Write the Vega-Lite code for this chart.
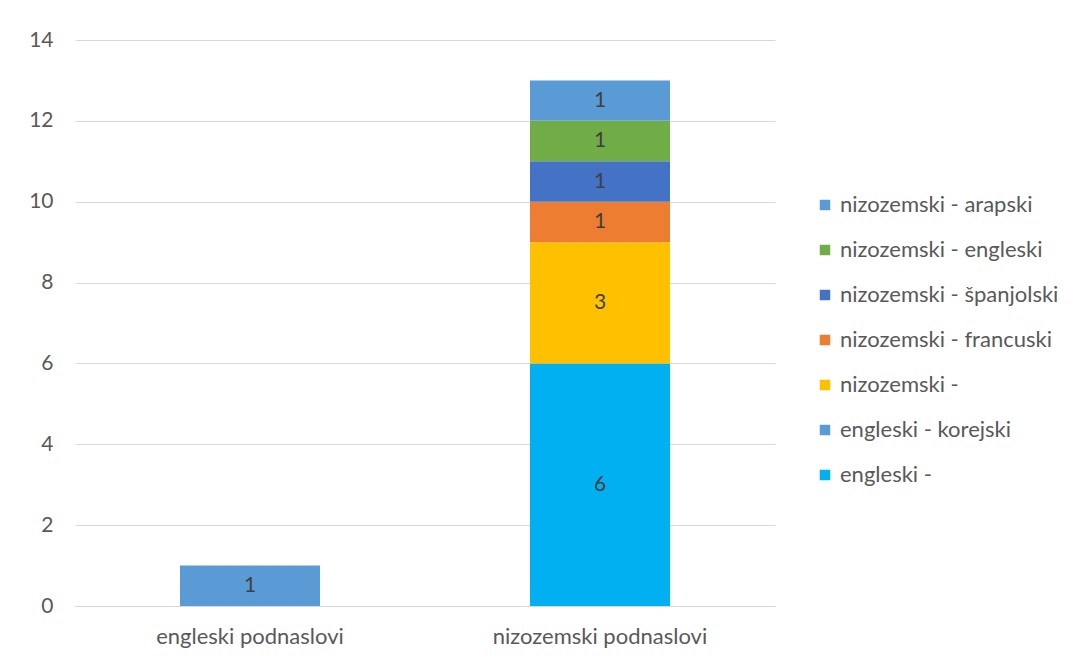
{
  "$schema": "https://vega.github.io/schema/vega-lite/v6.json",
  "width": 700,
  "height": 566,
  "autosize": {"type": "none"},
  "padding": {"left": 75, "top": 40, "right": 300, "bottom": 55},
  "background": "white",
  "config": {
    "font": "Lato",
    "view": {"stroke": null},
    "axis": {
      "labelFont": "Lato",
      "labelColor": "#595959",
      "labelFontSize": 21,
      "ticks": false,
      "gridColor": "#D9D9D9",
      "gridWidth": 1
    },
    "legend": {
      "labelFont": "Lato",
      "labelColor": "#595959",
      "labelFontSize": 22,
      "labelLimit": 320
    }
  },
  "data": {
    "values": [
      {"kategorija": "engleski podnaslovi", "serija": "engleski - korejski", "broj": 1, "redoslijed": 2},
      {"kategorija": "nizozemski podnaslovi", "serija": "engleski -", "broj": 6, "redoslijed": 1},
      {"kategorija": "nizozemski podnaslovi", "serija": "nizozemski -", "broj": 3, "redoslijed": 3},
      {"kategorija": "nizozemski podnaslovi", "serija": "nizozemski - francuski", "broj": 1, "redoslijed": 4},
      {"kategorija": "nizozemski podnaslovi", "serija": "nizozemski - španjolski", "broj": 1, "redoslijed": 5},
      {"kategorija": "nizozemski podnaslovi", "serija": "nizozemski - engleski", "broj": 1, "redoslijed": 6},
      {"kategorija": "nizozemski podnaslovi", "serija": "nizozemski - arapski", "broj": 1, "redoslijed": 7}
    ]
  },
  "transform": [
    {
      "stack": "broj",
      "groupby": ["kategorija"],
      "sort": [{"field": "redoslijed", "order": "ascending"}],
      "as": ["v0", "v1"]
    }
  ],
  "encoding": {
    "x": {
      "field": "kategorija",
      "type": "nominal",
      "sort": ["engleski podnaslovi", "nizozemski podnaslovi"],
      "scale": {"paddingInner": 0.6, "paddingOuter": 0.3},
      "axis": {
        "title": null,
        "labelAngle": 0,
        "labelFontSize": 22,
        "labelLimit": 400,
        "labelPadding": 20,
        "domainColor": "#D9D9D9",
        "domainWidth": 1,
        "grid": false
      }
    }
  },
  "layer": [
    {
      "mark": {"type": "bar"},
      "encoding": {
        "y": {
          "field": "v0",
          "type": "quantitative",
          "scale": {"domain": [0, 14], "nice": false},
          "axis": {
            "title": null,
            "values": [0, 2, 4, 6, 8, 10, 12, 14],
            "domain": false,
            "labelPadding": 22
          }
        },
        "y2": {"field": "v1"},
        "color": {
          "field": "serija",
          "type": "nominal",
          "scale": {
            "domain": [
              "nizozemski - arapski",
              "nizozemski - engleski",
              "nizozemski - španjolski",
              "nizozemski - francuski",
              "nizozemski -",
              "engleski - korejski",
              "engleski -"
            ],
            "range": ["#5B9BD5", "#70AD47", "#4472C4", "#ED7D31", "#FFC000", "#5B9BD5", "#00B0F0"]
          },
          "legend": {
            "title": null,
            "orient": "none",
            "legendX": 739,
            "legendY": 154,
            "symbolType": "square",
            "symbolSize": 110,
            "symbolStrokeWidth": 0,
            "labelOffset": 4,
            "rowPadding": 23
          }
        }
      }
    },
    {
      "transform": [
        {"fold": ["v0", "v1"], "as": ["rub", "polozaj"]},
        {
          "aggregate": [{"op": "mean", "field": "polozaj", "as": "sredina"}],
          "groupby": ["kategorija", "serija", "broj"]
        }
      ],
      "mark": {"type": "text", "font": "Lato", "fontSize": 21, "color": "#404040", "baseline": "middle"},
      "encoding": {
        "y": {"field": "sredina", "type": "quantitative"},
        "text": {"field": "broj", "type": "quantitative"}
      }
    }
  ]
}
